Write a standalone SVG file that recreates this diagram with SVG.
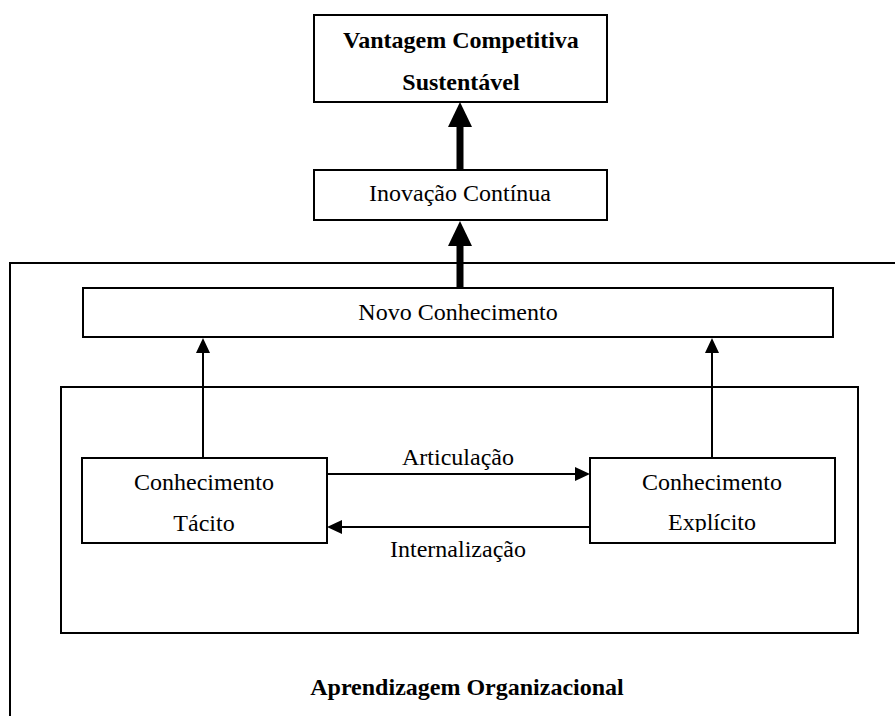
<svg xmlns="http://www.w3.org/2000/svg" width="895" height="716" viewBox="0 0 895 716">
  <style>
    .box { fill: #ffffff; stroke: #000000; stroke-width: 2; }
    .frame { fill: none; stroke: #000000; stroke-width: 2; }
    .thin { fill: none; stroke: #000000; stroke-width: 2; marker-end: url(#head); }
    .thick { fill: none; stroke: #000000; stroke-width: 7; marker-end: url(#bighead); }
    text { font-family: 'Liberation Serif', 'Times New Roman', Times, 'DejaVu Serif', serif; font-size: 24px; fill: #000000; text-anchor: middle; }
    .bold { font-weight: bold; }
  </style>
  <defs>
    <marker id="head" viewBox="0 0 15 14" refX="0" refY="7" markerWidth="15" markerHeight="14" markerUnits="userSpaceOnUse" orient="auto">
      <path d="M0,0 L15,7 L0,14 z" fill="#000000"/>
    </marker>
    <marker id="bighead" viewBox="0 0 25 24" refX="0" refY="12" markerWidth="25" markerHeight="24" markerUnits="userSpaceOnUse" orient="auto">
      <path d="M0,0 L25,12 L0,24 z" fill="#000000"/>
    </marker>
    <clipPath id="explicitClip">
      <rect x="590" y="457" width="245" height="75"/>
    </clipPath>
  </defs>

  <rect width="895" height="716" fill="#ffffff"/>

  <!-- organisational learning frame, open to the right and bottom -->
  <g id="aprendizagem">
    <path class="frame" d="M10,716 V263 H895"/>
    <text class="bold" x="467" y="695" font-family="Liberation Serif, serif">Aprendizagem Organizacional</text>
  </g>

  <!-- inner knowledge-conversion frame -->
  <g id="conversao">
    <rect class="frame" x="61" y="387" width="797" height="246"/>
  </g>

  <g id="connectors">
    <line class="thick" x1="460" y1="169" x2="460" y2="127"/>
    <line class="thick" x1="460" y1="288" x2="460" y2="246"/>
    <line class="thin" x1="203" y1="458" x2="203" y2="353"/>
    <line class="thin" x1="712" y1="458" x2="712" y2="353"/>
    <line class="thin" x1="327" y1="474" x2="575" y2="474"/>
    <line class="thin" x1="590" y1="527" x2="342" y2="527"/>
    <text x="458" y="465">Articulação</text>
    <text x="458" y="557">Internalização</text>
  </g>

  <g id="vantagem">
    <rect class="box" x="314" y="15" width="293" height="87"/>
    <text class="bold" x="461" y="48">Vantagem Competitiva</text>
    <text class="bold" x="461" y="90">Sustentável</text>
  </g>

  <g id="inovacao">
    <rect class="box" x="314" y="170" width="293" height="50"/>
    <text x="460" y="201">Inovação Contínua</text>
  </g>

  <g id="novo">
    <rect class="box" x="83" y="288" width="750" height="49"/>
    <text x="458" y="320">Novo Conhecimento</text>
  </g>

  <g id="tacito">
    <rect class="box" x="82" y="458" width="245" height="85"/>
    <text x="204" y="490">Conhecimento</text>
    <text x="204" y="531">Tácito</text>
  </g>

  <g id="explicito">
    <rect class="box" x="590" y="458" width="245" height="85"/>
    <text x="712" y="490">Conhecimento</text>
    <text x="712" y="530" clip-path="url(#explicitClip)">Explícito</text>
  </g>
</svg>
